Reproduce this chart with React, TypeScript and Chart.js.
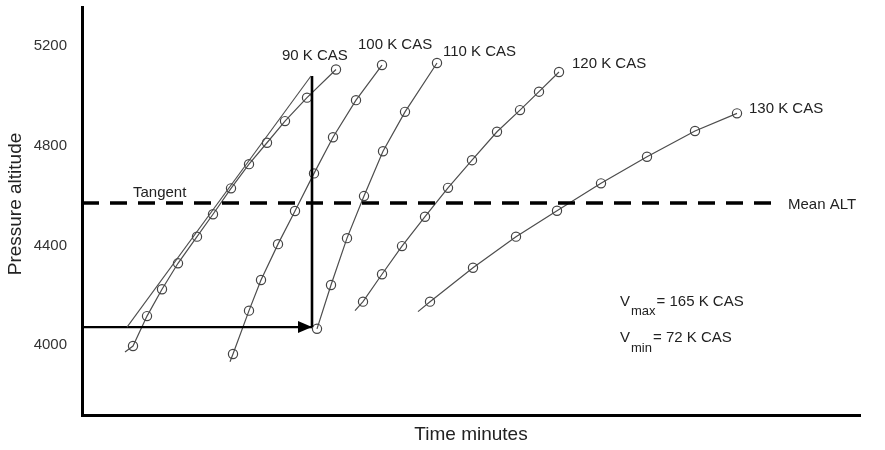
import React, { useEffect, useRef } from "react";
import { Chart, registerables } from "chart.js";

Chart.register(...registerables);

const FONT = "'Liberation Sans', Arial, Helvetica, sans-serif";

// Axis ranges (time in arbitrary minute units, pressure altitude in ft)
const X_MIN = 0;
const X_MAX = 778;
const Y_MIN = 3719;
const Y_MAX = 5357;
const yTickValues = [4000, 4400, 4800, 5200];
const yTitle = "Pressure altitude";
const xTitle = "Time minutes";

// Each series: first `lead` points are line-only (no marker)
const cas90X = [43, 51, 65, 80, 96, 115, 131, 149, 167, 185, 203, 225, 254];
const cas90Y = [3972, 3996, 4116, 4224, 4328, 4435, 4525, 4629, 4726, 4812, 4899, 4993, 5106];
const cas90Lead = 1;

const cas100X = [148, 151, 167, 179, 196, 213, 232, 251, 274, 300];
const cas100Y = [3933, 3964, 4138, 4261, 4405, 4538, 4689, 4834, 4983, 5124];
const cas100Lead = 1;

const cas110X = [235, 249, 265, 282, 301, 323, 355];
const cas110Y = [4065, 4241, 4429, 4598, 4778, 4936, 5132];
const cas110Lead = 0;

const cas120X = [273, 281, 300, 320, 343, 366, 390, 415, 438, 457, 477];
const cas120Y = [4138, 4174, 4284, 4397, 4515, 4631, 4742, 4856, 4943, 5017, 5096];
const cas120Lead = 1;

const cas130X = [336, 348, 391, 434, 475, 519, 565, 613, 655];
const cas130Y = [4134, 4174, 4310, 4435, 4539, 4649, 4756, 4859, 4930];
const cas130Lead = 1;

// Construction lines
const tangentX = [45, 229];
const tangentY = [4072, 5080];
const verticalX = [230, 230];
const verticalY = [5080, 4072];
const arrowX = [0, 230];
const arrowY = [4072, 4072];
const meanAltX = [0, 690];
const meanAltY = [4570, 4570];

// Text labels (data coordinates, left-aligned)
const labelTexts = ["90 K CAS", "100 K CAS", "110 K CAS", "120 K CAS", "130 K CAS", "Mean ALT", "Tangent"];
const labelX = [200, 276, 361, 490, 667, 706, 51];
const labelY = [5160, 5204, 5177, 5128, 4950, 4562, 4610];

// Speed limits text
const speedNames = ["max", "min"];
const speedValues = ["= 165 K CAS", "= 72 K CAS"];
const speedX = [538, 538];
const speedY = [4174, 4028];

const pts = (xs: number[], ys: number[]) => xs.map((x, i) => ({ x, y: ys[i] }));

const curve = (label: string, xs: number[], ys: number[], lead: number) => ({
  label,
  data: pts(xs, ys),
  borderColor: "#4d4d4d",
  borderWidth: 1.2,
  pointStyle: "circle",
  pointRadius: xs.map((_, i) => (i < lead ? 0 : 4.6)),
  pointBackgroundColor: "rgba(0,0,0,0)",
  pointBorderColor: "#444",
  pointBorderWidth: 1.2,
  tension: 0,
  fill: false,
});

const plain = (label: string, xs: number[], ys: number[], color: string, width: number, extra: any = {}) => ({
  label,
  data: pts(xs, ys),
  borderColor: color,
  borderWidth: width,
  pointRadius: 0,
  tension: 0,
  fill: false,
  ...extra,
});

const arrowPlugin = {
  id: "arrowHeads",
  afterDatasetsDraw(chart: any) {
    const ctx = chart.ctx;
    chart.data.datasets.forEach((ds: any, i: number) => {
      if (!ds.arrowHead) return;
      const meta = chart.getDatasetMeta(i);
      const n = meta.data.length;
      if (n < 2) return;
      const a = meta.data[n - 2];
      const b = meta.data[n - 1];
      const ang = Math.atan2(b.y - a.y, b.x - a.x);
      const len = 14;
      const half = 6;
      ctx.save();
      ctx.fillStyle = "#000";
      ctx.beginPath();
      ctx.moveTo(b.x, b.y);
      ctx.lineTo(b.x - len * Math.cos(ang) + half * Math.sin(ang), b.y - len * Math.sin(ang) - half * Math.cos(ang));
      ctx.lineTo(b.x - len * Math.cos(ang) - half * Math.sin(ang), b.y - len * Math.sin(ang) + half * Math.cos(ang));
      ctx.closePath();
      ctx.fill();
      ctx.restore();
    });
  },
};

const textPlugin = {
  id: "textLabels",
  afterDatasetsDraw(chart: any) {
    const ctx = chart.ctx;
    const xs = chart.scales.x;
    const ys = chart.scales.y;
    ctx.save();
    ctx.fillStyle = "#222";
    ctx.textAlign = "left";
    ctx.textBaseline = "middle";
    ctx.font = `15px ${FONT}`;
    labelTexts.forEach((t, i) => {
      ctx.fillText(t, xs.getPixelForValue(labelX[i]), ys.getPixelForValue(labelY[i]));
    });
    speedNames.forEach((name, i) => {
      const px = xs.getPixelForValue(speedX[i]);
      const py = ys.getPixelForValue(speedY[i]);
      ctx.font = `15px ${FONT}`;
      ctx.fillText("V", px, py);
      const vw = ctx.measureText("V").width;
      ctx.font = `13px ${FONT}`;
      ctx.fillText(name, px + vw + 1, py + 10);
      const sw = ctx.measureText(name).width;
      ctx.font = `15px ${FONT}`;
      ctx.fillText(speedValues[i], px + vw + 1 + sw + 1, py);
    });
    // y-axis title, centred a little above the plot-area middle as in the source
    ctx.save();
    ctx.translate(16, (ys.top + ys.bottom) / 2 - 7);
    ctx.rotate(-Math.PI / 2);
    ctx.textAlign = "center";
    ctx.font = `19px ${FONT}`;
    ctx.fillText(yTitle, 0, 0);
    ctx.restore();
    ctx.restore();
  },
};

export default function App() {
  const ref = useRef<HTMLCanvasElement | null>(null);

  useEffect(() => {
    if (!ref.current) return;
    const chart = new Chart(ref.current, {
      type: "line",
      data: {
        datasets: [
          plain("Mean ALT", meanAltX, meanAltY, "#000", 3.5, { borderDash: [17, 11] }),
          plain("Tangent", tangentX, tangentY, "#4d4d4d", 1.1),
          plain("Vertical", verticalX, verticalY, "#000", 2.6),
          plain("Arrow", arrowX, arrowY, "#000", 2.2, { arrowHead: true }),
          curve("90 K CAS", cas90X, cas90Y, cas90Lead),
          curve("100 K CAS", cas100X, cas100Y, cas100Lead),
          curve("110 K CAS", cas110X, cas110Y, cas110Lead),
          curve("120 K CAS", cas120X, cas120Y, cas120Lead),
          curve("130 K CAS", cas130X, cas130Y, cas130Lead),
        ] as any,
      },
      options: {
        responsive: false,
        animation: false,
        events: [],
        layout: { padding: { top: 7, right: 25, left: 0, bottom: 0 } },
        plugins: {
          legend: { display: false },
          tooltip: { enabled: false },
        },
        scales: {
          x: {
            type: "linear",
            min: X_MIN,
            max: X_MAX,
            grid: { display: false, drawTicks: false },
            border: { display: true, color: "#000", width: 3 },
            ticks: { display: false },
            title: {
              display: true,
              text: xTitle,
              color: "#222",
              font: { family: FONT, size: 19 },
              padding: { top: 0, bottom: 4 },
            },
            afterFit: (s: any) => {
              s.height = 35;
              s.paddingLeft = 0;
              s.paddingRight = 0;
            },
          },
          y: {
            type: "linear",
            min: Y_MIN,
            max: Y_MAX,
            afterBuildTicks: (s: any) => {
              s.ticks = yTickValues.map((v) => ({ value: v }));
            },
            grid: { display: false, drawTicks: false },
            border: { display: true, color: "#000", width: 3 },
            ticks: {
              padding: 15,
              color: "#333",
              font: { family: FONT, size: 15 },
              callback: (v: any) => String(v),
            },
            title: { display: false },
            afterFit: (s: any) => {
              s.width = 82;
              s.paddingTop = 0;
              s.paddingBottom = 0;
            },
          },
        },
      } as any,
      plugins: [arrowPlugin, textPlugin],
    });
    return () => chart.destroy();
  }, []);

  return (
    <div style={{ position: "absolute", left: 0, top: 0, width: 885, height: 450, background: "#fff" }}>
      <canvas ref={ref} width={885} height={450} style={{ display: "block" }} />
    </div>
  );
}
